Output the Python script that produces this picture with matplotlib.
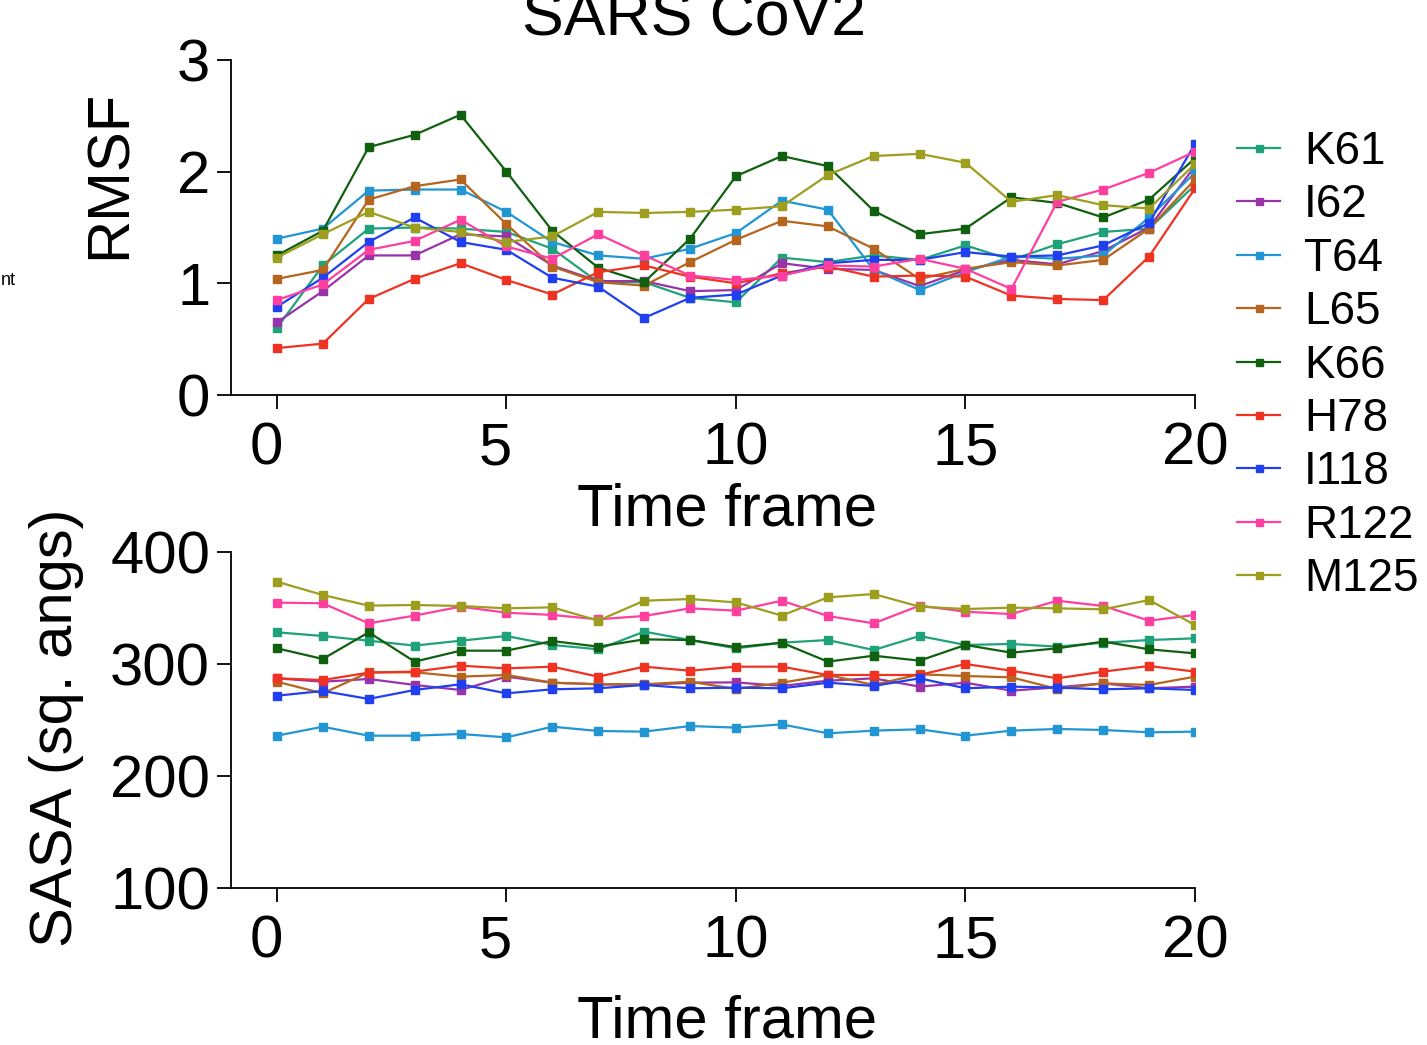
import matplotlib
matplotlib.use('Agg')
import matplotlib.pyplot as plt
from matplotlib.transforms import ScaledTranslation

plt.rcParams['font.family'] = ['Liberation Sans', 'DejaVu Sans']

frames = list(range(21))
residues = ['K61', 'I62', 'T64', 'L65', 'K66', 'H78', 'I118', 'R122', 'M125']
colors = ['#1fa27a', '#9933aa', '#2196d3', '#b5651d', '#106010',
          '#ee3322', '#2040f0', '#ff3f9f', '#9e9e1e']

rmsf_K61 = [0.60, 1.16, 1.49, 1.50, 1.49, 1.46, 1.31, 1.01, 1.01, 0.87, 0.83, 1.23, 1.19, 1.25, 1.21, 1.34, 1.21, 1.35, 1.46, 1.49, 1.88]
rmsf_I62 = [0.65, 0.93, 1.25, 1.25, 1.44, 1.42, 1.16, 1.02, 1.02, 0.93, 0.94, 1.18, 1.13, 1.12, 0.975, 1.12, 1.21, 1.17, 1.29, 1.50, 2.05]
rmsf_T64 = [1.40, 1.49, 1.83, 1.84, 1.84, 1.64, 1.37, 1.25, 1.22, 1.31, 1.45, 1.74, 1.66, 1.12, 0.94, 1.10, 1.24, 1.22, 1.25, 1.59, 1.99]
rmsf_L65 = [1.04, 1.12, 1.75, 1.87, 1.93, 1.53, 1.15, 1.01, 0.98, 1.19, 1.39, 1.56, 1.51, 1.31, 1.04, 1.13, 1.19, 1.16, 1.21, 1.49, 1.93]
rmsf_K66 = [1.25, 1.47, 2.22, 2.33, 2.51, 2.00, 1.47, 1.14, 1.01, 1.40, 1.96, 2.14, 2.05, 1.65, 1.44, 1.49, 1.77, 1.72, 1.59, 1.75, 2.12]
rmsf_H78 = [0.42, 0.46, 0.86, 1.04, 1.18, 1.03, 0.90, 1.10, 1.16, 1.06, 1.00, 1.09, 1.15, 1.06, 1.07, 1.06, 0.89, 0.86, 0.85, 1.24, 1.85]
rmsf_I118 = [0.79, 1.05, 1.37, 1.59, 1.37, 1.30, 1.05, 0.97, 0.69, 0.87, 0.90, 1.07, 1.18, 1.21, 1.21, 1.28, 1.24, 1.25, 1.34, 1.54, 2.25]
rmsf_R122 = [0.85, 0.99, 1.30, 1.38, 1.57, 1.33, 1.22, 1.44, 1.25, 1.07, 1.03, 1.07, 1.16, 1.15, 1.22, 1.13, 0.95, 1.73, 1.84, 1.99, 2.18]
rmsf_M125 = [1.23, 1.44, 1.64, 1.50, 1.46, 1.37, 1.42, 1.64, 1.63, 1.64, 1.66, 1.69, 1.97, 2.14, 2.16, 2.08, 1.73, 1.79, 1.70, 1.67, 2.07]

sasa_K61 = [328.3, 325, 320.8, 316.4, 320.8, 325, 317, 313.1, 328.9, 321.4, 314, 319, 321.4, 312.5, 325, 317, 317.9, 315.5, 319, 321.4, 322.9]
sasa_I62 = [287.2, 284.2, 286.6, 281.3, 276.8, 288.7, 283.3, 281.9, 281.3, 283.3, 283.6, 280.4, 285.1, 287.2, 279.8, 283.3, 276.2, 279.2, 282.7, 278.3, 279.8]
sasa_T64 = [236, 244, 236, 236, 237.5, 234.5, 244, 240.2, 239.6, 244.6, 243.2, 246.1, 238.1, 240.5, 241.7, 236, 240.5, 242, 241.1, 239, 239.6]
sasa_L65 = [284.2, 273.8, 292.6, 292.6, 288.7, 290.2, 283.3, 281.9, 281.9, 284.2, 277.7, 283.3, 290.2, 281.3, 290.8, 289.3, 288.1, 277.7, 282.7, 281.3, 288.7]
sasa_K66 = [314, 304.5, 328.3, 302.1, 311.9, 311.9, 320.5, 315.5, 322, 321.4, 315, 319, 302.1, 307.4, 303, 317, 310.1, 314, 320, 313.1, 309.5]
sasa_H78 = [287.2, 285.7, 292.3, 293.2, 298.5, 296.1, 297.6, 288.7, 297.6, 294, 297.6, 297.6, 290.2, 290.2, 290.2, 300, 294, 287.2, 293.2, 298.2, 293.2]
sasa_I118 = [271.7, 275.9, 268.8, 276.8, 281.9, 273.8, 277.4, 278.3, 281.3, 278.3, 278.9, 278.3, 283.3, 280.4, 287.2, 278.3, 279.8, 278.9, 277.4, 278.3, 276.8]
sasa_R122 = [354.8, 354.2, 336.3, 343.2, 351.2, 345.8, 343.8, 339.9, 342.9, 349.7, 347.6, 356.5, 342.9, 336.3, 352.1, 346.7, 344.6, 356.5, 351.8, 338.7, 343.8]
sasa_M125 = [373.5, 361.6, 352.1, 352.7, 351.8, 349.7, 350.6, 338.7, 356.5, 358, 355, 343.2, 359.5, 362.5, 351.2, 349.1, 350.3, 349.7, 348.8, 357.1, 334.8]

rmsf_series = [rmsf_K61, rmsf_I62, rmsf_T64, rmsf_L65, rmsf_K66, rmsf_H78, rmsf_I118, rmsf_R122, rmsf_M125]
sasa_series = [sasa_K61, sasa_I62, sasa_T64, sasa_L65, sasa_K66, sasa_H78, sasa_I118, sasa_R122, sasa_M125]

x_ticks = [0, 5, 10, 15, 20]
rmsf_ticks = [0, 1, 2, 3]
sasa_ticks = [100, 200, 300, 400]

W, H = 1427, 1045
fig = plt.figure(figsize=(W / 100, H / 100), dpi=100)

def px_rect(l, t, r, b):
    return [l / W, 1 - b / H, (r - l) / W, (b - t) / H]

ax1 = fig.add_axes(px_rect(231, 60, 1195, 395))
ax2 = fig.add_axes(px_rect(231, 552, 1195, 888))

FS = 43
for ax, series, yt, ylim in [(ax1, rmsf_series, rmsf_ticks, (0, 3)),
                              (ax2, sasa_series, sasa_ticks, (100, 400))]:
    for name, vals, c in zip(residues, series, colors):
        ax.plot(frames, vals, color=c, lw=1.6, marker='s', ms=6.3,
                mec=c, mfc=c, label=name)
    ax.set_xlim(-1, 20)
    ax.set_ylim(*ylim)
    ax.set_xticks(x_ticks)
    ax.set_xticklabels([str(v) for v in x_ticks])
    ax.set_yticks(yt)
    ax.set_yticklabels([str(v) for v in yt])
    for s in ['top', 'right']:
        ax.spines[s].set_visible(False)
    for s in ['left', 'bottom']:
        ax.spines[s].set_linewidth(1.3)
    ax.tick_params(axis='x', direction='out', length=10, width=1.3,
                   labelsize=FS, pad=9)
    ax.tick_params(axis='y', direction='out', length=10, width=1.3,
                   labelsize=FS, pad=5)
    for lbl in ax.get_xticklabels():
        if len(lbl.get_text()) == 1:
            lbl.set_transform(lbl.get_transform() +
                              ScaledTranslation(-0.11, 0, fig.dpi_scale_trans))

fig.text(694 / W, 1 - 35 / H, 'SARS CoV2', ha='center', va='baseline', fontsize=45)
fig.text(727 / W, 1 - 525 / H, 'Time frame', ha='center', va='baseline', fontsize=FS)
fig.text(727 / W, 1 - 1037 / H, 'Time frame', ha='center', va='baseline', fontsize=FS)
fig.text(110 / W, 1 - 174 / H, 'RMSF', ha='center', va='center', rotation=90, fontsize=FS)
fig.text(57 / W, 1 - 728 / H, 'SASA (sq. angs)', ha='center', va='center', rotation=90, fontsize=FS)
fig.text(1 / W, 1 - 285 / H, 'nt', ha='left', va='baseline', fontsize=13)

handles, labels = ax1.get_legend_handles_labels()
fig.legend(handles, labels, loc='upper left', bbox_to_anchor=(1237 / W, 1 - 130 / H),
           frameon=False, fontsize=33, handlelength=0.94, handletextpad=0.52,
           labelspacing=0.205, borderpad=0, borderaxespad=0, markerscale=0.8)

fig.savefig('out.png', dpi=100)
